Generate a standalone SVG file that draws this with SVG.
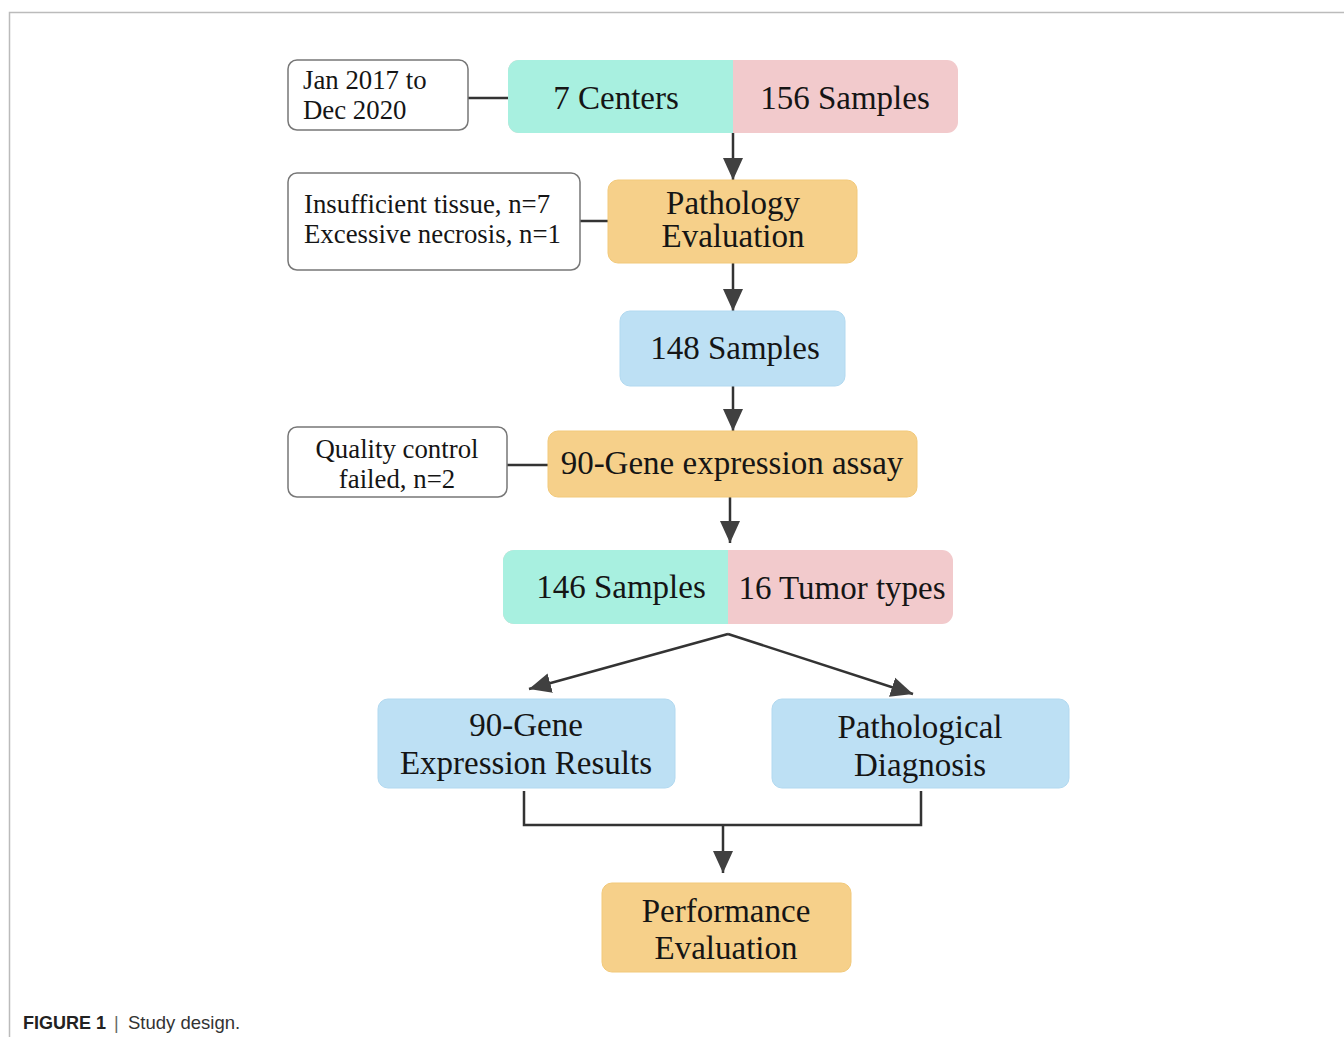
<svg xmlns="http://www.w3.org/2000/svg" width="1344" height="1037" viewBox="0 0 1344 1037">
<defs>
<style>
.t{font-family:"Liberation Serif","Times New Roman",serif;fill:#151515;text-anchor:middle}
.m{font-size:33px}
.s{font-size:26.8px}
.side{fill:#fff;stroke:#777;stroke-width:1.5}
.teal{fill:#a8f0e0}
.pink{fill:#f2cacc}
.orange{fill:#f6d08a;stroke:#f2c97a;stroke-width:1}
.blue{fill:#bde0f4;stroke:#b2d9f0;stroke-width:1}
.c{fill:none;stroke:#333;stroke-width:2.5}
.a{fill:none;stroke:#333;stroke-width:2.5;marker-end:url(#ah)}
</style>
<marker id="ah" markerUnits="userSpaceOnUse" markerWidth="24" markerHeight="24" viewBox="0 0 24 24" refX="22" refY="12" orient="auto">
<path d="M0,2 L22,12 L0,22 Z" fill="#404040"/>
</marker>
</defs>
<rect width="1344" height="1037" fill="#fff"/>
<path d="M9.5,1037 V12.5 H1344" fill="none" stroke="#bbb" stroke-width="1.5"/>

<g id="connectors">
<line class="c" x1="468" y1="98" x2="510" y2="98"/>
<line class="a" x1="733" y1="133" x2="733" y2="180"/>
<line class="c" x1="580" y1="221" x2="610" y2="221"/>
<line class="a" x1="733" y1="263" x2="733" y2="311"/>
<line class="a" x1="733" y1="386" x2="733" y2="431"/>
<line class="c" x1="507" y1="465" x2="548" y2="465"/>
<line class="a" x1="730" y1="497" x2="730" y2="543"/>
<line class="a" x1="728" y1="634" x2="529" y2="689"/>
<line class="a" x1="728" y1="634" x2="913" y2="694"/>
<path class="c" d="M524,791 V825 H921 V791"/>
<line class="a" x1="723" y1="825" x2="723" y2="873"/>
</g>

<g id="n-date">
<rect class="side" x="288" y="60" width="180" height="70" rx="9"/>
<text class="t s" x="303" y="89" style="text-anchor:start">Jan 2017 to</text>
<text class="t s" x="303" y="119" style="text-anchor:start">Dec 2020</text>
</g>

<g id="n-centers">
<rect class="pink" x="508" y="60" width="450" height="73" rx="11"/>
<path class="teal" d="M733,60 H519 A11,11 0 0 0 508,71 V122 A11,11 0 0 0 519,133 H733 Z"/>
<text class="t m" x="616" y="109">7 Centers</text>
<text class="t m" x="845" y="109">156 Samples</text>
</g>

<g id="n-exclude1">
<rect class="side" x="288" y="173" width="292" height="97" rx="9"/>
<text class="t s" x="304" y="213" style="text-anchor:start">Insufficient tissue, n=7</text>
<text class="t s" x="304" y="243" style="text-anchor:start">Excessive necrosis, n=1</text>
</g>

<g id="n-pathology">
<rect class="orange" x="608" y="180" width="249" height="83" rx="10"/>
<text class="t m" x="733" y="214">Pathology</text>
<text class="t m" x="733" y="247">Evaluation</text>
</g>

<g id="n-148">
<rect class="blue" x="620" y="311" width="225" height="75" rx="10"/>
<text class="t m" x="735" y="359">148 Samples</text>
</g>

<g id="n-qc">
<rect class="side" x="288" y="427" width="219" height="70" rx="9"/>
<text class="t s" x="397" y="458">Quality control</text>
<text class="t s" x="397" y="488">failed, n=2</text>
</g>

<g id="n-assay">
<rect class="orange" x="548" y="431" width="369" height="66" rx="10"/>
<text class="t m" x="732" y="474">90-Gene expression assay</text>
</g>

<g id="n-146">
<rect class="pink" x="503" y="550" width="450" height="74" rx="11"/>
<path class="teal" d="M728,550 H514 A11,11 0 0 0 503,561 V613 A11,11 0 0 0 514,624 H728 Z"/>
<text class="t m" x="621" y="598">146 Samples</text>
<text class="t m" x="842" y="599">16 Tumor types</text>
</g>

<g id="n-results">
<rect class="blue" x="378" y="699" width="297" height="89" rx="10"/>
<text class="t m" x="526" y="736">90-Gene</text>
<text class="t m" x="526" y="774">Expression Results</text>
</g>

<g id="n-diagnosis">
<rect class="blue" x="772" y="699" width="297" height="89" rx="10"/>
<text class="t m" x="920" y="738">Pathological</text>
<text class="t m" x="920" y="776">Diagnosis</text>
</g>

<g id="n-performance">
<rect class="orange" x="602" y="883" width="249" height="89" rx="10"/>
<text class="t m" x="726" y="922">Performance</text>
<text class="t m" x="726" y="959">Evaluation</text>
</g>

<text y="1029" style="font-family:'Liberation Sans',Arial,sans-serif;font-size:18px;fill:#222"><tspan x="23" font-weight="bold">FIGURE 1</tspan><tspan x="114" fill="#666">|</tspan><tspan x="128" fill="#333" font-size="18.5px">Study design.</tspan></text>
</svg>
